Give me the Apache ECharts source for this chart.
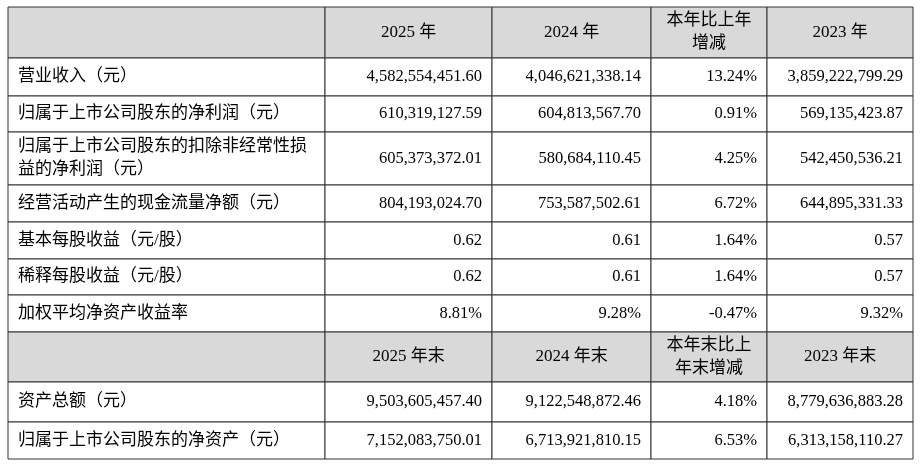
<!DOCTYPE html>
<html><head><meta charset="utf-8">
<script src="https://cdn.jsdelivr.net/npm/echarts@6/dist/echarts.min.js"></script>
<style>html,body{margin:0;padding:0;background:#fff}#c{width:920px;height:464px}</style>
</head><body><div id="c"></div>
<script>
const header1 = ['', '2025 年', '2024 年', '本年比上年\n增减', '2023 年'];
const header2 = ['', '2025 年末', '2024 年末', '本年末比上\n年末增减', '2023 年末'];
const labels1 = ['营业收入（元）','归属于上市公司股东的净利润（元）','归属于上市公司股东的扣除非经常性损\n益的净利润（元）','经营活动产生的现金流量净额（元）','基本每股收益（元/股）','稀释每股收益（元/股）','加权平均净资产收益率'];
const col2025 = ['4,582,554,451.60','610,319,127.59','605,373,372.01','804,193,024.70','0.62','0.62','8.81%'];
const col2024 = ['4,046,621,338.14','604,813,567.70','580,684,110.45','753,587,502.61','0.61','0.61','9.28%'];
const colChg = ['13.24%','0.91%','4.25%','6.72%','1.64%','1.64%','-0.47%'];
const col2023 = ['3,859,222,799.29','569,135,423.87','542,450,536.21','644,895,331.33','0.57','0.57','9.32%'];
const labels2 = ['资产总额（元）','归属于上市公司股东的净资产（元）'];
const end2025 = ['9,503,605,457.40','7,152,083,750.01'];
const end2024 = ['9,122,548,872.46','6,713,921,810.15'];
const endChg = ['4.18%','6.53%'];
const end2023 = ['8,779,636,883.28','6,313,158,110.27'];

const colX = [8, 325, 492, 651, 767, 913];
const rowY = [7, 58, 96, 132, 185, 222, 259, 295, 332, 382, 422, 459];
const numFont = '16.5px "Liberation Serif",serif';
const cjkFont = '17px "Liberation Serif","Noto Sans CJK SC",serif';

const rows = [{h:true, cells:header1}];
labels1.forEach((l,i)=>rows.push({cells:[l,col2025[i],col2024[i],colChg[i],col2023[i]]}));
rows.push({h:true, cells:header2});
labels2.forEach((l,i)=>rows.push({cells:[l,end2025[i],end2024[i],endChg[i],end2023[i]]}));

const els = [];
rows.forEach((r,ri)=>{
  const y0=rowY[ri], y1=rowY[ri+1];
  r.cells.forEach((t,ci)=>{
    const x0=colX[ci], x1=colX[ci+1];
    els.push({type:'rect',shape:{x:x0,y:y0,width:x1-x0,height:y1-y0},
      style:{fill:r.h?'#d9d9d9':'#fff',stroke:'#333',lineWidth:1}});
    if(!t) return;
    let x, align;
    if(r.h){x=(x0+x1)/2;align='center';}
    else if(ci===0){x=x0+10;align='left';}
    else {x=x1-10;align='right';}
    els.push({type:'text',x:x,y:(y0+y1)/2,style:{text:t,font:(ci===0||r.h)?cjkFont:numFont,fill:'#000',align:align,verticalAlign:'middle',lineHeight:23}});
  });
});
const chart = echarts.init(document.getElementById('c'));
chart.setOption({graphic:{elements:els}});
</script></body></html>
